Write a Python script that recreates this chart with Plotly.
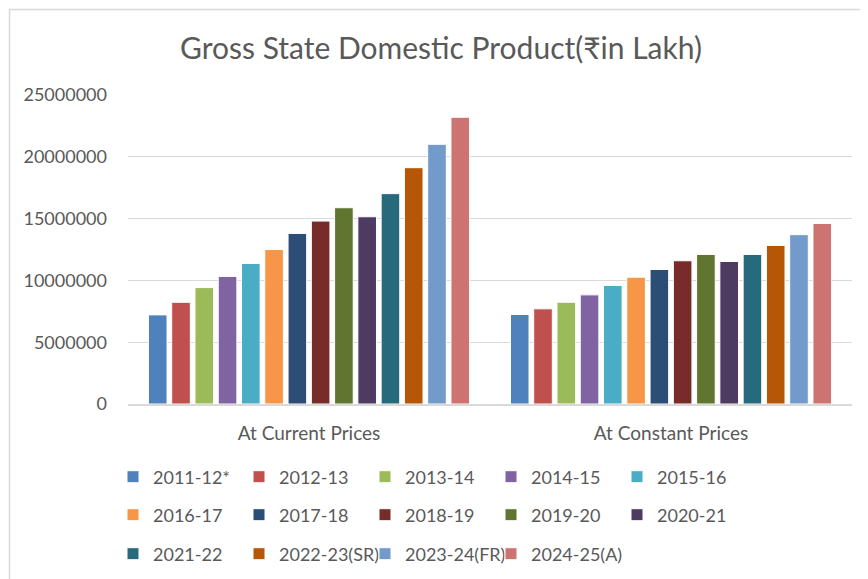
import plotly.graph_objects as go

categories = ["At Current Prices", "At Constant Prices"]
years = ["2011-12*", "2012-13", "2013-14", "2014-15", "2015-16", "2016-17", "2017-18",
         "2018-19", "2019-20", "2020-21", "2021-22", "2022-23(SR)", "2023-24(FR)", "2024-25(A)"]
current_prices = [7210000, 8230000, 9420000, 10320000, 11370000, 12500000, 13800000,
                  14800000, 15880000, 15150000, 17020000, 19120000, 21010000, 23200000]
constant_prices = [7240000, 7700000, 8230000, 8830000, 9590000, 10260000, 10880000,
                   11590000, 12100000, 11530000, 12100000, 12830000, 13700000, 14610000]
colors = ["#4F81BD", "#C0504D", "#9BBB59", "#8064A2", "#4BACC6", "#F79646", "#2C4D75",
          "#772C2A", "#5F7530", "#4D3B62", "#276A7C", "#B65708", "#729ACA", "#CD7371"]
y_ticks = [0, 5000000, 10000000, 15000000, 20000000, 25000000]

FONT = "Lato"
TXT = "#595959"

OFF = 8  # default page body margin
W, H = 868 - OFF, 579 - OFF
L, R, T, B = 128 - OFF, 16, 95 - OFF, 175
pw, ph = W - L - R, H - T - B

legend_names = ["legend", "legend2", "legend3"]

fig = go.Figure()
for i, (yr, c) in enumerate(zip(years, colors)):
    fig.add_trace(go.Bar(
        name=yr, x=categories, y=[current_prices[i], constant_prices[i]],
        marker=dict(color=c, line=dict(color="white", width=1)),
        legend=legend_names[i // 5],
    ))

# invisible spacer entry so the last legend row is not clipped
fig.add_trace(go.Scatter(x=[None], y=[None], mode="markers", name=" ",
                         marker=dict(color="rgba(0,0,0,0)", size=1,
                                     line=dict(width=0, color="rgba(0,0,0,0)")),
                         legend="legend3", hoverinfo="skip"))

def px_to_py(yp):
    return (H - B - (yp - OFF)) / ph

def px_to_pxx(xp):
    return (xp - OFF - L) / pw

leg_common = dict(orientation="h", xanchor="left", yanchor="middle",
                  font=dict(family=FONT, size=18, color=TXT),
                  entrywidth=81, entrywidthmode="pixels",
                  bgcolor="rgba(0,0,0,0)", itemwidth=30, traceorder="normal")
rows_y = [477, 515, 554]

fig.update_layout(
    width=W, height=H,
    margin=dict(l=L, r=R, t=T, b=B, autoexpand=False),
    paper_bgcolor="white", plot_bgcolor="white",
    barmode="group", bargap=0.1, bargroupgap=0.2,
    title=dict(text="Gross State Domestic Product(₹in Lakh)", x=(441 - OFF) / W, xref="container",
               xanchor="center", y=1 - (48 - OFF) / H, yref="container", yanchor="middle",
               font=dict(family=FONT, size=30, color=TXT)),
    showlegend=True,
    legend=dict(x=px_to_pxx(113), y=px_to_py(rows_y[0]), **leg_common),
    legend2=dict(x=px_to_pxx(113), y=px_to_py(rows_y[1]), **leg_common),
    legend3=dict(x=px_to_pxx(113), y=px_to_py(rows_y[2]), **leg_common),
    xaxis=dict(showline=True, linecolor="#d9d9d9", linewidth=2, ticks="",
               tickfont=dict(family=FONT, size=19, color=TXT), ticklabelstandoff=11),
    yaxis=dict(range=[0, 25000000], tickvals=y_ticks, tickformat="d",
               showgrid=True, gridcolor="#d9d9d9", gridwidth=1, zeroline=False,
               showline=False, ticks="",
               tickfont=dict(family=FONT, size=18, color=TXT), ticklabelstandoff=20),
    shapes=[dict(type="rect", xref="paper", yref="paper",
                 x0=px_to_pxx(9.5), x1=px_to_pxx(880), y0=px_to_py(600), y1=px_to_py(9.5),
                 line=dict(color="#d9d9d9", width=1.5), fillcolor="rgba(0,0,0,0)", layer="below")],
)

fig.write_html("out.html")
